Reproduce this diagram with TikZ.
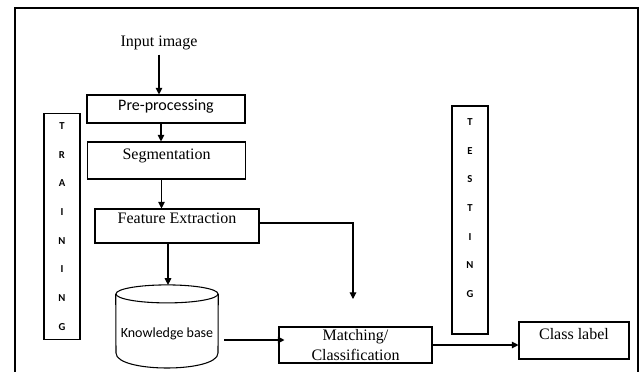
\documentclass[tikz,border=0pt]{standalone}
\usepackage{fontspec}
\setmainfont{Liberation Serif}
\newfontfamily\calibri{Carlito}
\usetikzlibrary{shapes.geometric, arrows.meta, positioning, calc}

\tikzset{
    box/.style={draw, line width=0.8pt, rectangle, inner sep=0pt},
    serif/.style={font=\fontsize{12}{15}\selectfont},
    sans/.style={font=\calibri\fontsize{12}{15}\selectfont},
    lettercol/.style={align=center, font=\calibri\bfseries\fontsize{8}{21.5}\selectfont},
    lift/.style={text depth=#1},
    flow/.style={->, line width=0.8pt}
}

\begin{document}
\begin{tikzpicture}[x=0.75pt, y=-0.75pt, >={Triangle[length=5pt, width=5pt]}]
    \useasboundingbox (0,0) rectangle (644,372);
    % outer frame
    \draw[line width=0.8pt] (15,372) -- (15,8) -- (638,8) -- (638,372);

    % training chain
    \node[serif] (input) at (159,43) {Input image};
    \node[box, sans, lift=6pt, minimum width=118.5pt, minimum height=21pt] (pre) at (166,109) {Pre-processing};
    \node[box, serif, lift=10pt, minimum width=119pt, minimum height=27.75pt] (seg) at (166.5,160.5) {Segmentation};
    \node[box, serif, lift=11pt, minimum width=123pt, minimum height=25.5pt] (fe) at (177,226) {Feature Extraction};
    \node[font=\calibri\fontsize{10.5}{13}\selectfont, text height=18pt, minimum width=76.5pt, minimum height=62pt, inner sep=0pt] (kb) at (167,326.5) {Knowledge base};
    % database drum
    \draw[line width=0.8pt] (kb.north) ++(0,9) ellipse [x radius=51, y radius=9];
    \draw[line width=0.8pt] ([yshift=-6.75pt]kb.north west) -- (116,353)
        .. controls (116,373) and (218,373) .. (218,353) -- ([yshift=-6.75pt]kb.north east);

    % testing chain
    \node[box, serif, align=center, minimum width=114.75pt, minimum height=27pt] (match) at (355.5,345) {Matching/\\Classification};
    \node[box, serif, lift=10pt, minimum width=82.5pt, minimum height=27.75pt] (cls) at (574,340.5) {Class label};

    % side labels
    \node[box, lettercol, minimum width=27pt, minimum height=170pt] (train) at (62,226.5) {T\\R\\A\\I\\N\\I\\N\\G};
    \node[box, lettercol, lift=18pt, minimum width=27pt, minimum height=171pt] (test) at (470,220) {T\\E\\S\\T\\I\\N\\G};

    % arrows
    \draw[flow] (input.south) -- (input.south |- pre.north);
    \draw[flow] ([xshift=-3.75pt]pre.south) -- ([xshift=-3.75pt]pre.south |- seg.north);
    \draw[flow] ([xshift=-3.75pt]seg.south) -- ([xshift=-3.75pt]seg.south |- fe.north);
    \draw[flow] ([xshift=-6.75pt]fe.south) -- ([xshift=-6.75pt]fe.south |- kb.north);
    \coordinate (drop) at (353,299);
    \draw[flow] ([yshift=2.25pt]fe.east) -| (drop);
    \draw[flow] ([shift={(6,13.5)}]kb.east) -- ([shift={(6,13.5)}]kb.east -| match.west);
    \draw[flow] (match.east) -- (match.east -| cls.west);
\end{tikzpicture}
\end{document}
